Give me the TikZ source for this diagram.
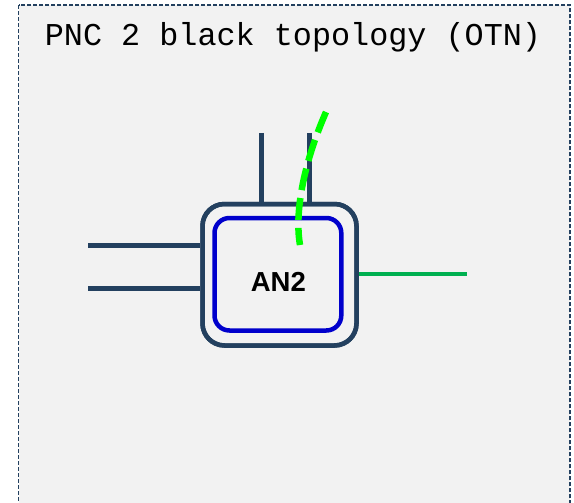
\documentclass[tikz,border=0pt]{standalone}
\usepackage{fontspec}
\setmainfont{Liberation Sans}
\newfontfamily\titlefont{Liberation Mono}
\definecolor{bgcol}{HTML}{F2F2F2}
\definecolor{navy}{HTML}{23405F}
\definecolor{innerblue}{HTML}{0000CC}
\definecolor{linkgreen}{HTML}{00B050}
\definecolor{brightgreen}{HTML}{00FF00}
\begin{document}
\begin{tikzpicture}[x=1pt,y=-1pt,
  framestyle/.style={draw=navy, line width=1.7pt, dash pattern=on 4pt off 2pt, fill=bgcol},
  outerbox/.style={draw=navy, line width=4.5pt, rounded corners=22pt, minimum width=154pt, minimum height=141.5pt, inner sep=0pt},
  innerbox/.style={draw=innerblue, line width=4.5pt, rounded corners=15pt, minimum width=126.8pt, minimum height=112.5pt, inner sep=0pt},
  navyline/.style={draw=navy, line width=4.5pt},
  greenline/.style={draw=linkgreen, line width=4.8pt},
  greendash/.style={draw=brightgreen, line width=6.5pt, dash pattern=on 22pt off 8pt},
  titletext/.style={font=\titlefont\fontsize{31.8}{36}\selectfont, inner sep=0pt, anchor=base},
  labeltext/.style={font=\bfseries\fontsize{27.5}{32}\selectfont, inner sep=0pt, anchor=base}
]
\useasboundingbox (0,0) rectangle (574,503);
\fill[white] (0,0) rectangle (574,503);
\begin{scope}
\clip (0,0) rectangle (574,503);
\draw[framestyle] (18.5,5.2) rectangle (570,540);
\end{scope}
\node[titletext] (title) at (293,46) {PNC 2 black topology (OTN)};
% link stubs
\coordinate (l1) at (88,245.7);
\coordinate (l2) at (88,288.3);
\coordinate (t1) at (261.7,133);
\coordinate (t2) at (309.3,133);
\coordinate (g1) at (467,274);
\node[outerbox] (an2o) at (279.5,274.75) {};
\draw[navyline] (l1) -- (l1 -| an2o.west);
\draw[navyline] (l2) -- (l2 -| an2o.west);
\draw[navyline] (t1) -- (t1 |- an2o.north);
\draw[navyline] (t2) -- (t2 |- an2o.north);
\draw[greenline] (an2o.east |- g1) -- (g1);
\node[outerbox] at (an2o) {};
\node[innerbox] (an2i) at (277.9,274.25) {};
\node[labeltext] (an2) at (278.4,291.7) {AN2};
\coordinate (c1) at (326,112);
\coordinate (c2) at (300,245);
\draw[greendash] (c1) .. controls (305,160) and (294,210) .. (c2);
\end{tikzpicture}
\end{document}
